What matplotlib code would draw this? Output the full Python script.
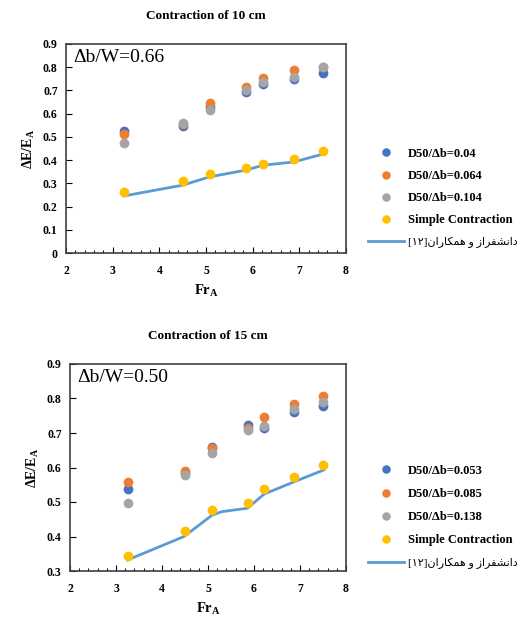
import numpy as np
import matplotlib
matplotlib.use("Agg")
import matplotlib.pyplot as plt
from matplotlib.ticker import MultipleLocator

plt.rcParams.update({
    "font.family": ["Liberation Serif", "DejaVu Sans"],
    "mathtext.fontset": "custom",
    "mathtext.rm": "Liberation Serif",
    "mathtext.bf": "Liberation Serif:bold",
    "mathtext.it": "Liberation Serif:italic",
})

# ---- data ----
fr_a = [3.25, 4.5, 5.08, 5.86, 6.22, 6.88, 7.51]

# contraction 10 cm
c10_labels = ["D50/\u0394b=0.04", "D50/\u0394b=0.064", "D50/\u0394b=0.104"]
c10_blue   = [0.525, 0.545, 0.630, 0.695, 0.727, 0.750, 0.776]
c10_orange = [0.512, 0.555, 0.647, 0.713, 0.752, 0.788, 0.800]
c10_gray   = [0.474, 0.561, 0.615, 0.704, 0.737, 0.756, 0.802]
c10_simple = [0.262, 0.310, 0.339, 0.368, 0.385, 0.405, 0.440]
c10_ref    = [0.246, 0.292, 0.328, 0.357, 0.378, 0.392, 0.426]

# contraction 15 cm
c15_labels = ["D50/\u0394b=0.053", "D50/\u0394b=0.085", "D50/\u0394b=0.138"]
c15_blue   = [0.537, 0.585, 0.658, 0.724, 0.714, 0.761, 0.779]
c15_orange = [0.558, 0.591, 0.656, 0.714, 0.745, 0.783, 0.807]
c15_gray   = [0.496, 0.578, 0.643, 0.709, 0.720, 0.770, 0.789]
c15_simple = [0.344, 0.416, 0.477, 0.496, 0.537, 0.573, 0.606]
c15_ref_x  = [3.25, 4.48, 5.09, 5.3, 5.86, 6.22, 6.88, 7.52]
c15_ref    = [0.332, 0.400, 0.462, 0.472, 0.482, 0.523, 0.559, 0.593]

# persian reference label, written in visual order with presentation forms
ref_label = ("[\u06f1\u06f2]"
             "\ufee5\ufe8d\ufead\ufe8e\ufb91\ufee4\ufeeb \ufeed "
             "\ufeaf\ufe8d\ufeae\ufed4\ufeb8\ufee7\ufe8d\ufea9")

colors = {"blue": "#4472C4", "orange": "#ED7D31", "gray": "#A5A5A5",
          "yellow": "#FFC000", "line": "#5B9BD5"}

W, H = 520, 617
fig = plt.figure(figsize=(W/100, H/100), dpi=100)


def panel(rect, title, series, labels, simple, ref_x, ref_y, ylim, note, leg_y, lspace):
    ax = fig.add_axes(rect)
    for (key, vals), lab in zip(series, labels):
        ax.plot(fr_a, vals, "o", ms=6, color=colors[key], label=lab, zorder=3)
    ax.plot(fr_a, simple, "o", ms=6, color=colors["yellow"],
            label="Simple Contraction", zorder=3)
    ax.plot(ref_x, ref_y, "-", lw=2, color=colors["line"], label=ref_label, zorder=2)

    ax.set_xlim(2, 8)
    ax.set_ylim(*ylim)
    ax.xaxis.set_major_locator(MultipleLocator(1))
    ax.xaxis.set_minor_locator(MultipleLocator(0.2))
    ax.yaxis.set_major_locator(MultipleLocator(0.1))
    ax.tick_params(direction="in", length=4, width=0.8, labelsize=8.5, pad=6)
    ax.tick_params(axis="x", pad=9)
    ax.tick_params(axis="x", which="minor", direction="in", length=2, width=0.7)
    ax.tick_params(right=False, top=False)
    ax.set_yticklabels([f"{v:g}" for v in ax.get_yticks()], fontweight="bold")
    ax.set_xticklabels([f"{v:g}" for v in ax.get_xticks()], fontweight="bold")
    for s in ax.spines.values():
        s.set_color("#404040")
        s.set_linewidth(1.2)

    ax.set_xlabel(r"$\mathbf{Fr_A}$", fontsize=10.5, labelpad=4)
    ax.set_ylabel(r"$\mathbf{\Delta E/E_A}$", fontsize=10, labelpad=4)
    ax.set_title(title, fontsize=9.5, fontweight="bold", pad=18)
    ax.text(0.025, 0.975, note, transform=ax.transAxes, fontsize=14,
            ha="left", va="top")

    leg = ax.legend(loc="center left", bbox_to_anchor=(368/W, leg_y),
                    bbox_transform=fig.transFigure, frameon=False,
                    fontsize=9, borderpad=0, borderaxespad=0, markerscale=0.85,
                    handlelength=2.9, handletextpad=0.3, labelspacing=lspace)
    for t in leg.get_texts()[:-1]:
        t.set_fontweight("bold")
    leg.get_texts()[-1].set_fontsize(8)
    return ax


panel([66/W, 1-253/H, 280/W, 209/H], "Contraction of 10 cm",
      [("blue", c10_blue), ("orange", c10_orange), ("gray", c10_gray)],
      c10_labels, c10_simple, fr_a, c10_ref, (0, 0.9), "\u0394b/W=0.66",
      1-198/H, 0.82)

panel([70/W, 1-571/H, 276/W, 207/H], "Contraction of 15 cm",
      [("blue", c15_blue), ("orange", c15_orange), ("gray", c15_gray)],
      c15_labels, c15_simple, c15_ref_x, c15_ref, (0.3, 0.9), "\u0394b/W=0.50",
      1-517/H, 0.9)

fig.savefig("out.png", dpi=100, facecolor="white")
